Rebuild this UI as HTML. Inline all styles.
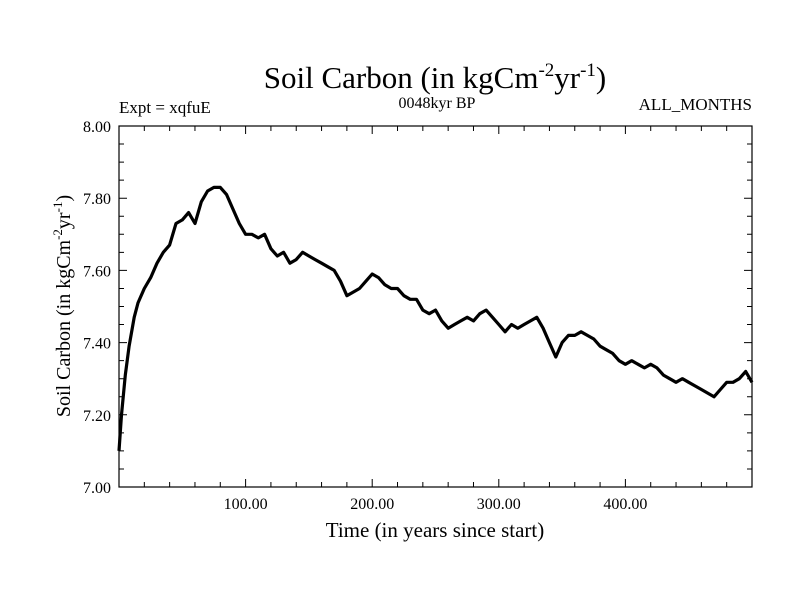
<!DOCTYPE html>
<html><head><meta charset="utf-8"><style>
body{margin:0;background:#fff;}
svg{display:block;font-family:"Liberation Serif",serif;}
</style></head><body>
<svg id="chart" width="800" height="600">
<text x="435" y="88" font-size="31" text-anchor="middle">Soil Carbon (in kgCm<tspan font-size="19" dy="-12">-2</tspan><tspan dy="12">yr</tspan><tspan font-size="19" dy="-12">-1</tspan><tspan dy="12">)</tspan></text>
<text x="119" y="113" font-size="17">Expt = xqfuE</text>
<text x="437" y="108" font-size="16" text-anchor="middle">0048kyr BP</text>
<text x="752" y="110" font-size="17" text-anchor="end">ALL_MONTHS</text>
<g id="axes"></g>
<text x="435" y="537" font-size="21" text-anchor="middle">Time (in years since start)</text>
<text transform="translate(70,306) rotate(-90)" font-size="20" text-anchor="middle">Soil Carbon (in kgCm<tspan font-size="13" dy="-8">-2</tspan><tspan dy="8">yr</tspan><tspan font-size="13" dy="-8">-1</tspan><tspan dy="8">)</tspan></text>
</svg>
<script>
const years=[0,2,5,8,12,15,20,25,30,35,40,45,50,55,60,65,70,75,80,85,90,95,100,105,110,115,120,125,130,135,140,145,150,155,160,165,170,175,180,185,190,195,200,205,210,215,220,225,230,235,240,245,250,255,260,265,270,275,280,285,290,295,300,305,310,315,320,325,330,335,340,345,350,355,360,365,370,375,380,385,390,395,400,405,410,415,420,425,430,435,440,445,450,455,460,465,470,475,480,485,490,495,500];
const carbon=[7.10,7.20,7.31,7.39,7.47,7.51,7.55,7.58,7.62,7.65,7.67,7.73,7.74,7.76,7.73,7.79,7.82,7.83,7.83,7.81,7.77,7.73,7.70,7.70,7.69,7.70,7.66,7.64,7.65,7.62,7.63,7.65,7.64,7.63,7.62,7.61,7.60,7.57,7.53,7.54,7.55,7.57,7.59,7.58,7.56,7.55,7.55,7.53,7.52,7.52,7.49,7.48,7.49,7.46,7.44,7.45,7.46,7.47,7.46,7.48,7.49,7.47,7.45,7.43,7.45,7.44,7.45,7.46,7.47,7.44,7.40,7.36,7.40,7.42,7.42,7.43,7.42,7.41,7.39,7.38,7.37,7.35,7.34,7.35,7.34,7.33,7.34,7.33,7.31,7.30,7.29,7.30,7.29,7.28,7.27,7.26,7.25,7.27,7.29,7.29,7.30,7.32,7.29];
const xTickLabels=[100,200,300,400];
const yTickLabels=[7.0,7.2,7.4,7.6,7.8,8.0];
const L=119,R=752,T=126,B=487,xmin=0,xmax=500,ymin=7,ymax=8;
const X=v=>L+(v-xmin)/(xmax-xmin)*(R-L);
const Y=v=>B-(v-ymin)/(ymax-ymin)*(B-T);
const NS="http://www.w3.org/2000/svg";
const g=document.getElementById('axes');
function mk(tag,attrs){const e=document.createElementNS(NS,tag);for(const k in attrs)e.setAttribute(k,attrs[k]);g.appendChild(e);return e;}
let d='';
for(let v=0;v<=500;v+=20){const x=X(v),len=(v%100===0)?8:5;d+=`M${x},${B}v${-len}M${x},${T}v${len}`;}
for(let i=0;i<=20;i++){const v=7+i*0.05,y=Y(v),len=(i%4===0)?8:5;d+=`M${L},${y}h${len}M${R},${y}h${-len}`;}
const ticks=mk('path',{d:d,stroke:'#000','stroke-width':1,fill:'none'});


let p='';
years.forEach((t,i)=>{p+=(i?'L':'M')+X(t).toFixed(1)+','+Y(carbon[i]).toFixed(1);});
const line=mk('path',{d:p,stroke:'#000','stroke-width':3.2,fill:'none','stroke-linejoin':'round'});


const box=mk('rect',{x:L,y:T,width:R-L,height:B-T,fill:'none',stroke:'#000','stroke-width':1.2});


xTickLabels.forEach(v=>{const t=mk('text',{x:X(v),y:509,'font-size':16,'text-anchor':'middle'});t.textContent=v.toFixed(2);

});
yTickLabels.forEach(v=>{const t=mk('text',{x:111,y:Y(v)+6,'font-size':16,'text-anchor':'end'});t.textContent=v.toFixed(2);

});
</script>
</body></html>
